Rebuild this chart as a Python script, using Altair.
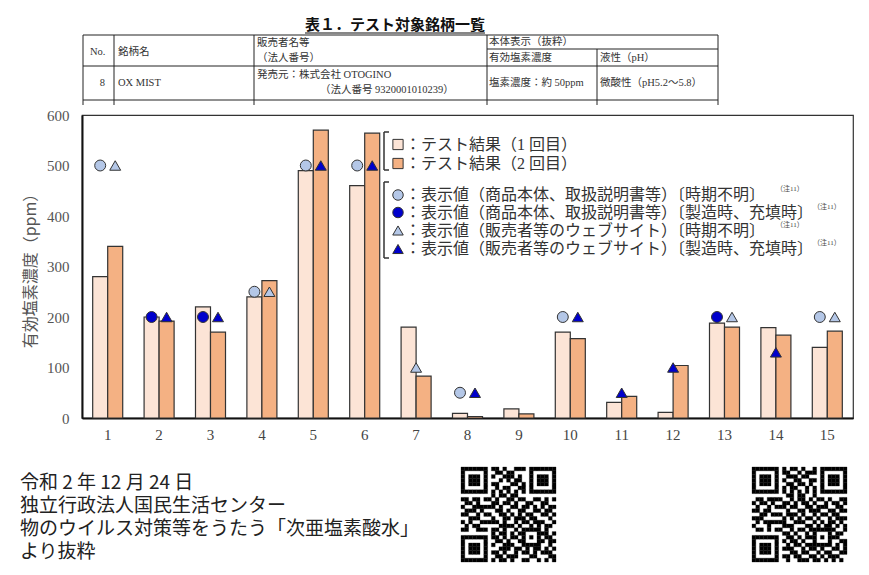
import altair as alt
import pandas as pd

# ---------------- data ----------------
nos = [str(i) for i in range(1, 16)]
run_labels = ["1回目", "2回目"]
run1 = [280, 200, 220, 240, 490, 460, 180, 9, 18, 170, 31, 11, 188, 179, 140]
run2 = [340, 192, 170, 272, 570, 564, 83, 3, 8, 157, 43, 104, 180, 164, 172]

kinds = ["circle_light", "circle_dark", "tri_light", "tri_dark"]
pair_no = ["1", "1", "2", "2", "3", "3", "4", "4", "5", "5", "6", "6",
           "8", "8", "10", "10", "13", "13", "15", "15"]
pair_kind = ["circle_light", "tri_light", "circle_dark", "tri_dark",
             "circle_dark", "tri_dark", "circle_light", "tri_light",
             "circle_light", "tri_dark", "circle_light", "tri_dark",
             "circle_light", "tri_dark", "circle_light", "tri_dark",
             "circle_dark", "tri_light", "circle_light", "tri_light"]
pair_val = [500, 500, 200, 200, 200, 200, 250, 250, 500, 500, 500, 500,
            50, 50, 200, 200, 200, 200, 200, 200]
single_no = ["7", "11", "12", "14"]
single_kind = ["tri_light", "tri_dark", "tri_dark", "tri_dark"]
single_val = [100, 50, 100, 130]

legend_texts = [
    "：テスト結果（1 回目）",
    "：テスト結果（2 回目）",
    "：表示値（商品本体、取扱説明書等）〔時期不明〕",
    "：表示値（商品本体、取扱説明書等）〔製造時、充填時〕",
    "：表示値（販売者等のウェブサイト）〔時期不明〕",
    "：表示値（販売者等のウェブサイト）〔製造時、充填時〕",
]
note_text = "（注11）"

title_text = "表１．テスト対象銘柄一覧"
footer_lines = ["令和 2 年 12 月 24 日", "独立行政法人国民生活センター",
                "物のウイルス対策等をうたう「次亜塩素酸水」", "より抜粋"]

qr1 = [
    "1111111011010011101111111",
    "1000001001101100001000001",
    "1011101010011101001011101",
    "1011101000101011001011101",
    "1011101011000110101011101",
    "1000001001011001101000001",
    "1111111010101010101111111",
    "0000000010110110000000000",
    "1101101101001101100110101",
    "0110100011011010011001100",
    "1001111110100110110101011",
    "0111010001101001100110110",
    "1100101100110101011001101",
    "0011100010011011101100010",
    "1010011111010010110111001",
    "0101100000111101001010110",
    "1100111011010010111110100",
    "0000000010110101100011101",
    "1111111011010110101010110",
    "1000001001101001100011011",
    "1011101010011100111110010",
    "1011101000111011010110101",
    "1011101011010010110101110",
    "1000001001101110001100011",
    "1111111010110100110010101",
]
qr2 = [
    "1111111010110100101111111",
    "1000001011001011101000001",
    "1011101001110110001011101",
    "1011101010011001101011101",
    "1011101001101101001011101",
    "1000001010110010101000001",
    "1111111010101010101111111",
    "0000000001101100100000000",
    "0110111100101101011010011",
    "1011010011010110100101101",
    "0100101110110011011100110",
    "1101100001001101110011011",
    "0011011101110100101101100",
    "1110000010101011010010111",
    "0101111110011100101011010",
    "1000100011100011010110101",
    "0110101100101101111111001",
    "0000000011010010100010110",
    "1111111001101011101011100",
    "1000001010110100100010011",
    "1011101001011011111110101",
    "1011101011100101101001101",
    "1011101000110110010110011",
    "1000001011011001101011100",
    "1111111001001110110101010",
]

# ---------------- styles ----------------
SERIF_JP = "Liberation Serif, Noto Sans CJK JP"
SANS_JP = "Noto Sans CJK JP"
LIGHT_BAR, DARK_BAR = "#FCE4D6", "#F4B183"
LIGHT_MK, DARK_MK = "#B4C7E7", "#0000CC"

one = pd.DataFrame({"k": [0]})


def label(t, x, y, size, font=SERIF_JP, color="#333", weight="normal", align="left"):
    return alt.Chart(one).mark_text(
        align=align, baseline="middle", font=font, fontSize=size,
        color=color, fontWeight=weight
    ).encode(x=alt.value(x), y=alt.value(y), text=alt.value(t))


def line(x1, y1, x2, y2, w=1.0, c="#333"):
    return alt.Chart(one).mark_rule(strokeWidth=w, color=c).encode(
        x=alt.value(x1), x2=alt.value(x2), y=alt.value(y1), y2=alt.value(y2))


def symbol(x, y, shape, fill, size=110):
    return alt.Chart(one).mark_point(
        filled=True, shape=shape, size=size, fill=fill, stroke="#333",
        strokeWidth=1, opacity=1
    ).encode(x=alt.value(x), y=alt.value(y))


# ---------------- chart layers ----------------
bars_df = pd.DataFrame({
    "No": nos * 2,
    "run": [run_labels[0]] * 15 + [run_labels[1]] * 15,
    "value": run1 + run2,
})

x_enc = alt.X("No:N", sort=nos,
              scale=alt.Scale(paddingInner=0.416, paddingOuter=0.208),
              axis=alt.Axis(labelAngle=0, ticks=False, labelPadding=9,
                            labelFont="Liberation Serif", labelFontSize=15,
                            labelColor="#444", domainColor="#111",
                            domainWidth=2, title=None))
y_enc = alt.Y("value:Q", scale=alt.Scale(domain=[0, 600], nice=False),
              axis=alt.Axis(values=[0, 100, 200, 300, 400, 500, 600],
                            ticks=False, grid=False, labelPadding=13,
                            labelFont="Liberation Serif", labelFontSize=15,
                            labelColor="#555", domainColor="#111",
                            domainWidth=2, title="有効塩素濃度（ppm）",
                            titleFont=SANS_JP, titleFontSize=16,
                            titleColor="#555", titleFontWeight="normal",
                            titlePadding=8))
off_enc = alt.XOffset("run:N", sort=run_labels,
                      scale=alt.Scale(domain=run_labels, paddingInner=0,
                                      paddingOuter=0))

bars = alt.Chart(bars_df).mark_bar(stroke="#333", strokeWidth=1.2).encode(
    x=x_enc, xOffset=off_enc, y=y_enc,
    color=alt.Color("run:N", scale=alt.Scale(domain=run_labels,
                                             range=[LIGHT_BAR, DARK_BAR]),
                    legend=None),
)

shape_sc = alt.Scale(domain=kinds, range=["circle", "circle", "triangle-up", "triangle-up"])
fill_sc = alt.Scale(domain=kinds, range=[LIGHT_MK, DARK_MK, LIGHT_MK, DARK_MK])

pair_df = pd.DataFrame({"No": pair_no, "kind": pair_kind, "value": pair_val})
pair_df["run"] = [run_labels[0] if k.startswith("circle") else run_labels[1]
                  for k in pair_kind]
single_df = pd.DataFrame({"No": single_no, "kind": single_kind, "value": single_val})

mk_props = dict(filled=True, size=120, stroke="#333", strokeWidth=1, opacity=1)
pair_pts = alt.Chart(pair_df).mark_point(**mk_props).encode(
    x=alt.X("No:N", sort=nos), xOffset=off_enc, y=alt.Y("value:Q"),
    shape=alt.Shape("kind:N", scale=shape_sc, legend=None),
    fill=alt.Fill("kind:N", scale=fill_sc, legend=None),
)
single_pts = alt.Chart(single_df).mark_point(**mk_props).encode(
    x=alt.X("No:N", sort=nos), y=alt.Y("value:Q"),
    shape=alt.Shape("kind:N", scale=shape_sc, legend=None),
    fill=alt.Fill("kind:N", scale=fill_sc, legend=None),
)

layers = [bars, pair_pts, single_pts]

# ---------------- legend (bracketed) ----------------
rows_y = [29.5, 48.5, 80, 97.5, 115.5, 134]
sym_x, txt_x = 316, 323
layers += [
    symbol(sym_x, rows_y[0], "square", LIGHT_BAR, 105),
    symbol(sym_x, rows_y[1], "square", DARK_BAR, 105),
    symbol(sym_x, rows_y[2], "circle", LIGHT_MK),
    symbol(sym_x, rows_y[3], "circle", DARK_MK),
    symbol(sym_x, rows_y[4], "triangle-up", LIGHT_MK),
    symbol(sym_x, rows_y[5], "triangle-up", DARK_MK),
]
for t, yy in zip(legend_texts, rows_y):
    layers.append(label(t, txt_x, yy, 16, color="#333"))
for xx, yy in zip([694, 731, 694, 731], rows_y[2:]):
    layers.append(label(note_text, xx, yy - 6, 7, color="#444"))
for (y1, y2) in [(17, 55), (67, 143)]:
    layers += [line(302, y1, 302, y2, 1.5), line(302, y1, 307, y1, 1.5),
               line(302, y2, 307, y2, 1.5)]

# ---------------- table above ----------------
layers.append(label(title_text, 313, -90, 15, font=SANS_JP, color="#111",
                    weight="bold", align="center"))
layers.append(line(223, -82, 403, -82, 1.2, "#111"))
for (x1, y1, x2, y2) in [(1, -80, 636, -80), (405, -66, 636, -66),
                         (1, -49, 636, -49), (1, -15, 636, -15),
                         (1, -80, 1, -10), (32, -80, 32, -10),
                         (172, -80, 172, -10), (405, -80, 405, -10),
                         (515, -66, 515, -10), (636, -80, 636, -10)]:
    layers.append(line(x1, y1, x2, y2, 1.0, "#222"))
tsz = 10.5
for t, xx, yy, al in [
    ("No.", 8, -63, "left"), ("銘柄名", 36, -63, "left"),
    ("販売者名等", 175, -72, "left"), ("（法人番号）", 175, -57, "left"),
    ("本体表示（抜粋）", 407, -73, "left"), ("有効塩素濃度", 407, -57, "left"),
    ("液性（pH）", 518, -57, "left"),
    ("8", 23, -32, "right"), ("OX MIST", 36, -32, "left"),
    ("発売元：株式会社 OTOGINO", 175, -40, "left"),
    ("（法人番号 9320001010239）", 238, -25, "left"),
    ("塩素濃度：約 50ppm", 407, -32, "left"),
    ("微酸性（pH5.2～5.8）", 518, -32, "left"),
]:
    layers.append(label(t, xx, yy, tsz, color="#333", align=al))

# ---------------- footer ----------------
for t, yy in zip(footer_lines, [368, 391, 414, 437]):
    layers.append(label(t, -62, yy, 19, font=SANS_JP, color="#222"))

# ---------------- QR codes ----------------
qr_rows = []
for qi, grid in enumerate([qr1, qr2]):
    for r, s in enumerate(grid):
        for c, ch in enumerate(s[:25]):
            if ch == "1":
                qr_rows.append({"q": qi, "r": r, "c": c})
qr_df = pd.DataFrame(qr_rows)
qr = alt.Chart(qr_df).transform_calculate(
    qx="(datum.q == 0 ? 379 : 670) + datum.c * 3.8",
    qy="352 + datum.r * 3.8",
).transform_calculate(
    qx2="datum.qx + 3.8", qy2="datum.qy + 3.8"
).mark_rect(color="#000", stroke="#000", strokeWidth=0.3).encode(
    x=alt.X("qx:Q", scale=None), x2="qx2:Q",
    y=alt.Y("qy:Q", scale=None), y2="qy2:Q",
)
layers.append(qr)

chart = alt.layer(*layers).properties(
    width=771, height=303,
    autosize=alt.AutoSizeParams(type="none"),
    padding={"left": 74, "top": 107, "right": 8, "bottom": 149},
    background="white",
).configure_view(stroke="#333", strokeWidth=1.2)

chart.save("out.html", embed_options={"renderer": "svg", "actions": False})
